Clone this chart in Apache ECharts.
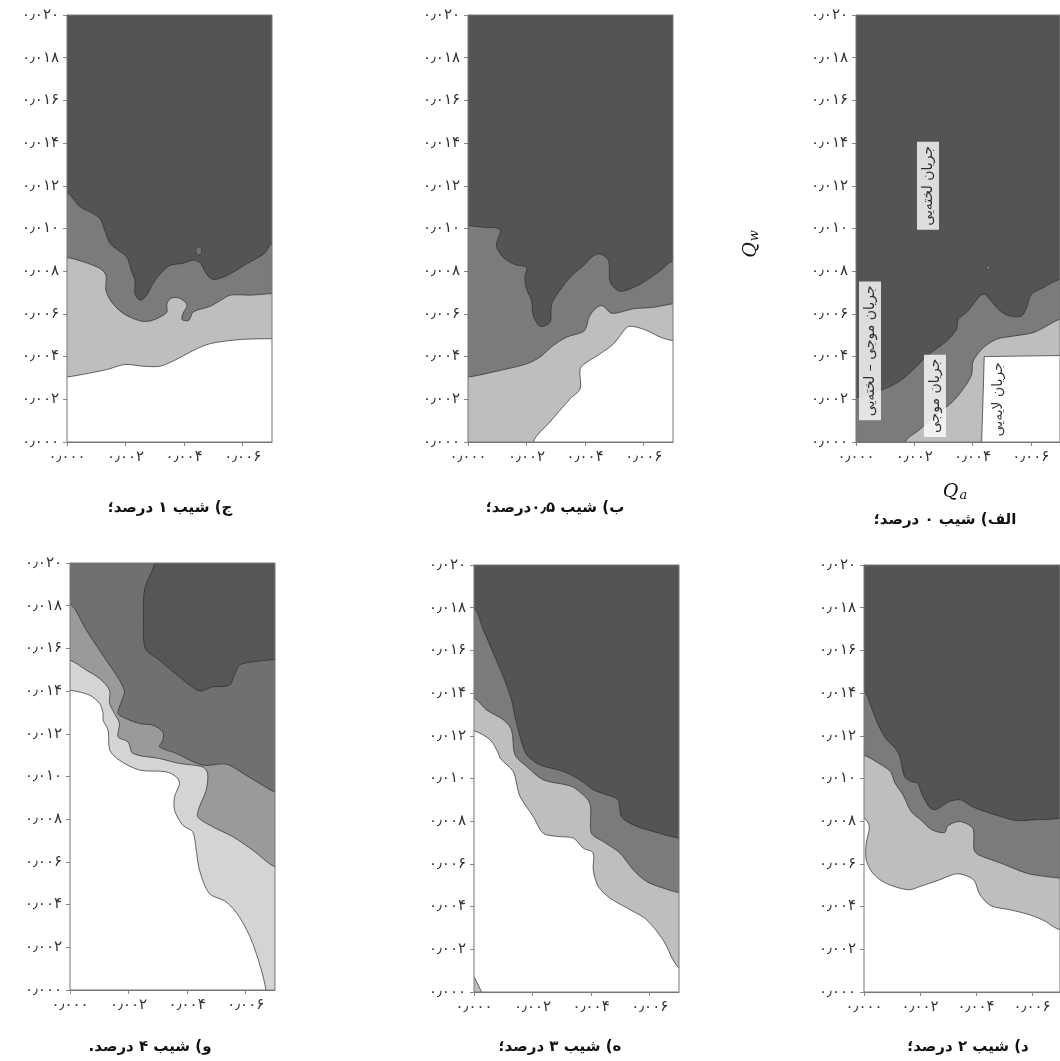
<!DOCTYPE html>
<html><head><meta charset="utf-8">
<script src="https://cdn.jsdelivr.net/npm/echarts@6/dist/echarts.min.js"></script>
<style>html,body{margin:0;padding:0;background:#fff}#chart{width:1060px;height:1061px;direction:rtl}</style>
</head><body><div id="chart"></div>
<script>
// ---- axis ticks ----
const xTicks = [0, 0.002, 0.004, 0.006];
const yTicks = [0, 0.002, 0.004, 0.006, 0.008, 0.010, 0.012, 0.014, 0.016, 0.018, 0.020];
const X0 = 0, X1 = 0.007, Y0 = 0, Y1 = 0.020;

// ---- captions ----
const captions = ['ج) شیب ۱ درصد؛', 'ب) شیب ۰٫۵درصد؛', 'الف) شیب ۰ درصد؛', 'و) شیب ۴ درصد.', 'ه) شیب ۳ درصد؛', 'د) شیب ۲ درصد؛'];

// ---- panel c (slope 1%) boundaries [Qa, Qw] ----
const tl_b1 = [[0,0.01167],[0.00044,0.01102],[0.00078,0.01078],[0.00112,0.01047],[0.00129,0.00992],[0.00147,0.00930],[0.00175,0.00898],[0.00204,0.00867],[0.00221,0.00797],[0.00232,0.00758],[0.00232,0.00695],[0.00250,0.00664],[0.00273,0.00688],[0.00290,0.00734],[0.00319,0.00789],[0.00353,0.00828],[0.00393,0.00836],[0.00433,0.00852],[0.00456,0.00836],[0.00479,0.00781],[0.00501,0.00761],[0.00548,0.00781],[0.00616,0.00836],[0.00674,0.00883],[0.00700,0.00930]];
const tl_b2 = [[0,0.00864],[0.00055,0.00844],[0.00112,0.00813],[0.00133,0.00781],[0.00133,0.00711],[0.00152,0.00656],[0.00192,0.00602],[0.00250,0.00567],[0.00284,0.00567],[0.00319,0.00586],[0.00341,0.00609],[0.00341,0.00648],[0.00358,0.00675],[0.00387,0.00672],[0.00410,0.00641],[0.00396,0.00602],[0.00393,0.00573],[0.00416,0.00570],[0.00431,0.00609],[0.00490,0.00636],[0.00525,0.00664],[0.00559,0.00688],[0.00628,0.00688],[0.00700,0.00695]];
const tl_b3 = [[0,0.00305],[0.00055,0.00317],[0.00135,0.00339],[0.00198,0.00363],[0.00261,0.00355],[0.00318,0.00355],[0.00364,0.00380],[0.00433,0.00430],[0.00490,0.00461],[0.00593,0.00480],[0.00700,0.00484]];
const tl_blob = [[0.00450, 0.00895]];

// ---- panel b (slope 0.5%) ----
const tm_b1 = [[0,0.01013],[0.00051,0.01006],[0.00109,0.00995],[0.00097,0.00920],[0.00120,0.00865],[0.00160,0.00831],[0.00200,0.00818],[0.00194,0.00772],[0.00200,0.00717],[0.00217,0.00663],[0.00223,0.00592],[0.00246,0.00542],[0.00280,0.00561],[0.00286,0.00647],[0.00326,0.00733],[0.00360,0.00787],[0.00394,0.00826],[0.00429,0.00873],[0.00451,0.00881],[0.00480,0.00850],[0.00486,0.00748],[0.00520,0.00706],[0.00589,0.00740],[0.00657,0.00803],[0.00700,0.00850]];
const tm_b2 = [[0,0.00304],[0.00109,0.00335],[0.00200,0.00366],[0.00246,0.00398],[0.00291,0.00452],[0.00337,0.00491],[0.00394,0.00517],[0.00406,0.00546],[0.00411,0.00577],[0.00429,0.00616],[0.00457,0.00639],[0.00491,0.00603],[0.00566,0.00624],[0.00634,0.00631],[0.00700,0.00647]];
const tm_b3 = [[0.00223,0],[0.00280,0.00094],[0.00349,0.00203],[0.00383,0.00249],[0.00383,0.00343],[0.00406,0.00374],[0.00451,0.00413],[0.00497,0.00460],[0.00543,0.00538],[0.00566,0.00541],[0.00611,0.00522],[0.00657,0.00491],[0.00700,0.00475]];

// ---- panel alef (slope 0%) ----
const tr_b1 = [[0,0.00208],[0.00094,0.00247],[0.00151,0.00286],[0.00197,0.00340],[0.00231,0.00387],[0.00265,0.00426],[0.00311,0.00473],[0.00345,0.00528],[0.00351,0.00575],[0.00379,0.00606],[0.00402,0.00645],[0.00425,0.00684],[0.00442,0.00692],[0.00459,0.00668],[0.00494,0.00614],[0.00528,0.00590],[0.00568,0.00590],[0.00585,0.00629],[0.00602,0.00692],[0.00642,0.00723],[0.00700,0.00762]];
const tr_b2 = [[0.00170,0],[0.00219,0.00059],[0.00277,0.00130],[0.00334,0.00192],[0.00379,0.00270],[0.00397,0.00317],[0.00402,0.00379],[0.00437,0.00442],[0.00482,0.00481],[0.00539,0.00496],[0.00608,0.00512],[0.00654,0.00543],[0.00700,0.00575]];
const tr_b3 = [[0.00431,0],[0.00437,0.00250],[0.00440,0.00400],[0.00700,0.00405]];
const tr_dot = [[0.00454, 0.00817]];
const tr_labels = [[0.00247,0.0120,'جریان لخته‌یی'],[0.00048,0.00427,'جریان موجی – لخته‌یی'],[0.00271,0.00216,'جریان موجی'],[0.00487,0.00200,'جریان لایه‌یی']];

// ---- panel vav (slope 4%) ----
const bl_a = [[0.00289,0.02],[0.00255,0.01880],[0.00251,0.01747],[0.00257,0.01599],[0.00306,0.01544],[0.00374,0.01466],[0.00442,0.01401],[0.00488,0.01420],[0.00544,0.01427],[0.00561,0.01474],[0.00578,0.01521],[0.00624,0.01537],[0.00700,0.01548]];
const bl_b = [[0,0.01810],[0.00056,0.01685],[0.00124,0.01544],[0.00169,0.01451],[0.00186,0.01396],[0.00175,0.01349],[0.00164,0.01295],[0.00192,0.01271],[0.00238,0.01248],[0.00283,0.01240],[0.00317,0.01209],[0.00317,0.01170],[0.00306,0.01139],[0.00363,0.01108],[0.00453,0.01053],[0.00533,0.01058],[0.00601,0.01006],[0.00658,0.00959],[0.00700,0.00928]];
const bl_c = [[0,0.01544],[0.00056,0.01498],[0.00101,0.01459],[0.00135,0.01404],[0.00135,0.01342],[0.00152,0.01295],[0.00169,0.01248],[0.00164,0.01186],[0.00198,0.01162],[0.00215,0.01108],[0.00306,0.01084],[0.00374,0.01061],[0.00453,0.01045],[0.00470,0.01014],[0.00465,0.00936],[0.00442,0.00858],[0.00436,0.00811],[0.00488,0.00764],[0.00556,0.00718],[0.00624,0.00655],[0.00700,0.00577]];
const bl_d = [[0,0.01404],[0.00067,0.01381],[0.00101,0.01342],[0.00113,0.01295],[0.00113,0.01264],[0.00130,0.01217],[0.00136,0.01123],[0.00169,0.01076],[0.00238,0.01030],[0.00328,0.01022],[0.00363,0.00998],[0.00374,0.00967],[0.00357,0.00905],[0.00357,0.00842],[0.00385,0.00772],[0.00419,0.00741],[0.00431,0.00655],[0.00442,0.00562],[0.00476,0.00452],[0.00533,0.00413],[0.00578,0.00343],[0.00624,0.00218],[0.00669,0]];

// ---- panel he (slope 3%) ----
const bm_b1 = [[0,0.01797],[0.00032,0.01696],[0.00066,0.01587],[0.00100,0.01477],[0.00128,0.01368],[0.00140,0.01290],[0.00157,0.01197],[0.00180,0.01111],[0.00225,0.01064],[0.00305,0.01033],[0.00361,0.00994],[0.00407,0.00947],[0.00452,0.00924],[0.00492,0.00900],[0.00503,0.00822],[0.00543,0.00783],[0.00611,0.00752],[0.00700,0.00721]];
const bm_b2 = [[0,0.01376],[0.00043,0.01321],[0.00100,0.01275],[0.00128,0.01228],[0.00140,0.01111],[0.00180,0.01056],[0.00236,0.00994],[0.00316,0.00970],[0.00344,0.00955],[0.00395,0.00885],[0.00401,0.00744],[0.00441,0.00705],[0.00498,0.00651],[0.00543,0.00573],[0.00589,0.00518],[0.00645,0.00487],[0.00700,0.00466]];
const bm_b3 = [[0,0.01223],[0.00055,0.01181],[0.00083,0.01119],[0.00089,0.01095],[0.00134,0.01033],[0.00145,0.00978],[0.00157,0.00916],[0.00202,0.00822],[0.00236,0.00744],[0.00282,0.00729],[0.00339,0.00721],[0.00373,0.00674],[0.00407,0.00651],[0.00407,0.00573],[0.00424,0.00495],[0.00464,0.00440],[0.00543,0.00378],[0.00589,0.00339],[0.00645,0.00245],[0.00700,0.00112]];
const bm_corner = [[0,0.00073],[0.00026,0]];

// ---- panel dal (slope 2%) ----
const br_b1 = [[0,0.01407],[0.00025,0.01337],[0.00048,0.01259],[0.00077,0.01189],[0.00111,0.01142],[0.00128,0.01103],[0.00145,0.01009],[0.00168,0.00986],[0.00191,0.00978],[0.00208,0.00924],[0.00237,0.00861],[0.00259,0.00856],[0.00305,0.00892],[0.00345,0.00900],[0.00385,0.00869],[0.00431,0.00846],[0.00488,0.00822],[0.00545,0.00803],[0.00614,0.00807],[0.00671,0.00810],[0.00700,0.00814]];
const br_b2 = [[0,0.01108],[0.00042,0.01080],[0.00094,0.01033],[0.00111,0.00978],[0.00139,0.00924],[0.00168,0.00846],[0.00202,0.00807],[0.00242,0.00760],[0.00288,0.00747],[0.00299,0.00778],[0.00339,0.00799],[0.00374,0.00783],[0.00391,0.00760],[0.00393,0.00666],[0.00408,0.00643],[0.00488,0.00604],[0.00579,0.00557],[0.00648,0.00541],[0.00700,0.00534]];
const br_b3 = [[0,0.00814],[0.00019,0.00775],[0.00008,0.00697],[0.00008,0.00619],[0.00031,0.00557],[0.00077,0.00510],[0.00157,0.00479],[0.00202,0.00495],[0.00271,0.00526],[0.00334,0.00554],[0.00391,0.00526],[0.00414,0.00456],[0.00454,0.00404],[0.00522,0.00385],[0.00591,0.00362],[0.00648,0.00331],[0.00671,0.00310],[0.00700,0.00292]];

// ---- styles ----
const DARK = '#545454', MID = '#7b7b7b', LIGHT = '#bebebe', WHITE = '#ffffff';
const G1 = '#565656', G2 = '#707070', G3 = '#9a9a9a', G4 = '#d4d4d4';
const FONT = 'DejaVu Sans';

const panels = [
  {left: 67,  top: 15,  cap: [170, 508], layers: [{full: true, fill: DARK}, {pts: tl_b1, fill: MID}, {pts: tl_b2, fill: LIGHT}, {pts: tl_b3, fill: WHITE}]},
  {left: 468, top: 15,  cap: [555, 508], layers: [{full: true, fill: DARK}, {pts: tm_b1, fill: MID}, {pts: tm_b2, fill: LIGHT}, {pts: tm_b3, fill: WHITE}]},
  {left: 856, top: 15,  cap: [945, 520], layers: [{full: true, fill: DARK}, {pts: tr_b1, fill: MID}, {pts: tr_b2, fill: LIGHT}, {pts: tr_b3, fill: WHITE, sharp: true}]},
  {left: 70,  top: 563, cap: [150, 1047], layers: [{full: true, fill: G2}, {pts: bl_a, fill: G1, side: 'above'}, {pts: bl_b, fill: G3}, {pts: bl_c, fill: G4}, {pts: bl_d, fill: WHITE}]},
  {left: 474, top: 565, cap: [560, 1047], layers: [{full: true, fill: DARK}, {pts: bm_b1, fill: MID}, {pts: bm_b2, fill: LIGHT}, {pts: bm_b3, fill: WHITE}, {pts: bm_corner, fill: LIGHT, sharp: true}]},
  {left: 864, top: 565, cap: [968, 1047], layers: [{full: true, fill: DARK}, {pts: br_b1, fill: MID}, {pts: br_b2, fill: LIGHT}, {pts: br_b3, fill: WHITE}]}
];

const toFa = v => v.toFixed(3).replace(/\d/g, d => '۰۱۲۳۴۵۶۷۸۹'[d]).replace('.', '٫');

// push an end point of a boundary just outside the plot edge it touches
const EX = 0.0006, EY = 0.0016, EPS = 1e-9;
function outward(p) {
  const [x, y] = p;
  if (x <= X0 + EPS) return [x - EX, y];
  if (x >= X1 - EPS) return [x + EX, y];
  if (y <= Y0 + EPS) return [x, y - EY];
  if (y >= Y1 - EPS) return [x, y + EY];
  return [x, y];
}
function polyOf(L) {
  if (L.full || L.frame) return [[X0, Y0], [X1, Y0], [X1, Y1], [X0, Y1]];
  const f = L.pts[0], l = L.pts[L.pts.length - 1];
  const fo = outward(f), lo = outward(l);
  const yb = L.side === 'above' ? Y1 + 3 * EY : Y0 - 3 * EY;
  return [fo].concat(L.pts, [lo, [lo[0], yb], [fo[0], yb]]);
}

const grid = [], xAxis = [], yAxis = [], series = [], graphic = [];
panels.forEach((p, i) => {
  grid.push({left: p.left, top: p.top, width: 205, height: 427});
  const axisCommon = (ticks) => ({
    axisLine: {show: true, lineStyle: {color: '#777', width: 1}},
    axisTick: {show: true, customValues: ticks, length: 4, lineStyle: {color: '#888'}},
    axisLabel: {customValues: ticks, formatter: toFa, fontSize: 15, color: '#333', margin: 8, fontFamily: FONT},
    splitLine: {show: false}});
  xAxis.push(Object.assign({type: 'value', gridIndex: i, min: X0, max: X1}, axisCommon(xTicks)));
  yAxis.push(Object.assign({type: 'value', gridIndex: i, min: Y0, max: Y1}, axisCommon(yTicks)));
  const layers = p.layers;
  series.push({type: 'custom', xAxisIndex: i, yAxisIndex: i, silent: true,
    data: layers.map((l, k) => [k]),
    renderItem: (params, api) => {
      const L = layers[params.dataIndex];
      const cs = params.coordSys;
      const points = polyOf(L).map(pt => api.coord(pt));
      const style = L.full ? {fill: L.fill} : {fill: L.fill, stroke: '#2b2b2b', lineWidth: 0.7};
      return {type: 'polygon', shape: {points, smooth: (L.full || L.sharp) ? 0 : 0.3}, style,
        clipPath: {type: 'rect', shape: {x: cs.x, y: cs.y, width: cs.width, height: cs.height}}};
    }});
  // frame drawn on top
  series.push({type: 'custom', xAxisIndex: i, yAxisIndex: i, silent: true, z: 4,
    data: [[0]],
    renderItem: (params, api) => {
      const points = polyOf({frame: true}).map(pt => api.coord(pt));
      return {type: 'polygon', shape: {points}, style: {fill: 'none', stroke: '#777', lineWidth: 1}};
    }});
  graphic.push({type: 'text', x: p.cap[0], y: p.cap[1],
    style: {text: captions[i], font: 'bold 15px "' + FONT + '"', fill: '#111', align: 'center', verticalAlign: 'middle'}});
});

// small islands / dots
series.push({type: 'scatter', xAxisIndex: 0, yAxisIndex: 0, data: tl_blob, symbol: 'circle', symbolSize: [6, 8],
  itemStyle: {color: MID, borderColor: '#2b2b2b', borderWidth: 0.7}, silent: true, z: 5});
series.push({type: 'scatter', xAxisIndex: 2, yAxisIndex: 2, data: tr_dot, symbol: 'circle', symbolSize: 4,
  itemStyle: {color: '#7b7b7b', borderColor: '#333', borderWidth: 0.6}, silent: true, z: 5});
// regime labels in panel alef
series.push({type: 'scatter', xAxisIndex: 2, yAxisIndex: 2, data: tr_labels, symbolSize: 0, silent: true, z: 6,
  label: {show: true, position: 'inside', rotate: 90, formatter: pr => pr.data[2], fontSize: 14, fontFamily: FONT,
    color: '#000', backgroundColor: '#fff', padding: [4, 4]}});

// axis names
const rich = {q: {fontFamily: 'DejaVu Serif', fontStyle: 'italic', fontSize: 19, fill: '#111'},
              s: {fontFamily: 'DejaVu Serif', fontStyle: 'italic', fontSize: 13, fill: '#111', verticalAlign: 'bottom', padding: [7, 0, 0, 1]}};
graphic.push({type: 'text', x: 955, y: 492, style: {text: '{q|Q}{s|a}', align: 'center', verticalAlign: 'middle', rich}});
graphic.push({type: 'text', x: 751, y: 244, rotation: Math.PI / 2, style: {text: '{q|Q}{s|w}', align: 'center', verticalAlign: 'middle', rich}});

const chart = echarts.init(document.getElementById('chart'), null, {renderer: 'canvas'});
chart.setOption({animation: false, backgroundColor: '#fff', textStyle: {fontFamily: FONT}, grid, xAxis, yAxis, series, graphic});
</script></body></html>
